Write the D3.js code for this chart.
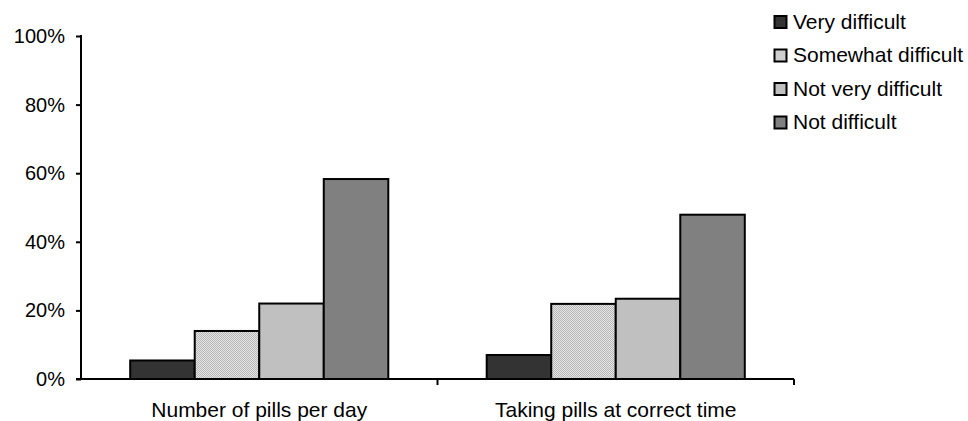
<!DOCTYPE html>
<html><head><meta charset="utf-8">
<script src="https://cdn.jsdelivr.net/npm/d3@7"></script>
<style>body{margin:0;background:#fff}svg{display:block}text{font-family:"Liberation Sans",Arial,sans-serif;fill:#000}</style>
</head><body><svg id="c" width="968" height="421"></svg>
<script>
const categories = ["Number of pills per day", "Taking pills at correct time"];
const seriesNames = ["Very difficult", "Somewhat difficult", "Not very difficult", "Not difficult"];
const veryDifficult = [5.4, 7.0];
const somewhatDifficult = [14.0, 21.9];
const notVeryDifficult = [22.0, 23.4];
const notDifficult = [58.3, 47.9];
const yTicks = [0, 20, 40, 60, 80, 100];
const seriesValues = [veryDifficult, somewhatDifficult, notVeryDifficult, notDifficult];
const fills = ["#333333", "url(#dots)", "#c0c0c0", "#808080"];

const svg = d3.select("#c");
const defs = svg.append("defs");
const pat = defs.append("pattern").attr("id","dots").attr("width",2).attr("height",2).attr("patternUnits","userSpaceOnUse");
pat.append("rect").attr("width",2).attr("height",2).attr("fill","#e4e4e4");
pat.append("rect").attr("width",1).attr("height",1).attr("fill","#b8b8b8");
pat.append("rect").attr("x",1).attr("y",1).attr("width",1).attr("height",1).attr("fill","#b8b8b8");

const mLeft = 81, mRight = 794, mTop = 36, mBottom = 379;
const y = d3.scaleLinear().domain([0,100]).range([mBottom, mTop]);
const x0 = d3.scaleBand().domain(categories).range([mLeft, mRight]).paddingInner(0).paddingOuter(0);
const inner = 0.724;
const x1 = d3.scaleBand().domain(seriesNames).range([0, x0.bandwidth()*inner]);
const off = x0.bandwidth()*(1-inner)/2;

const data = [];
categories.forEach((c,ci)=>seriesNames.forEach((s,si)=>data.push({c, s, si, v: seriesValues[si][ci]})));

svg.append("g").selectAll("rect").data(data).join("rect")
  .attr("x", d=>x0(d.c)+off+x1(d.s))
  .attr("y", d=>y(d.v))
  .attr("width", x1.bandwidth())
  .attr("height", d=>y(0)-y(d.v))
  .attr("fill", d=>fills[d.si])
  .attr("stroke","#000").attr("stroke-width",2);

// y axis
const ya = svg.append("g").attr("transform",`translate(${mLeft},0)`)
  .call(d3.axisLeft(y).tickValues(yTicks).tickFormat(d=>d+"%").tickSize(5).tickPadding(11));
ya.select(".domain").attr("stroke","#000").attr("stroke-width",2).attr("d",`M0,${mTop-1}V${mBottom+1}`);
ya.selectAll(".tick line").attr("stroke","#000").attr("stroke-width",2);
ya.selectAll("text").style("font-size","20px").attr("font-family","Liberation Sans, Arial, sans-serif");

// x axis
const xa = svg.append("g").attr("transform",`translate(0,${mBottom})`);
xa.append("line").attr("x1",mLeft-5).attr("x2",mRight).attr("y1",0).attr("y2",0).attr("stroke","#000").attr("stroke-width",2);
const bounds = categories.map(c=>x0(c)+x0.bandwidth());
xa.selectAll("line.t").data(bounds).join("line").attr("class","t")
  .attr("x1",d=>d).attr("x2",d=>d).attr("y1",0).attr("y2",6).attr("stroke","#000").attr("stroke-width",2);
xa.selectAll("text").data(categories).join("text")
  .attr("x",d=>x0(d)+x0.bandwidth()/2).attr("y",38).attr("text-anchor","middle")
  .style("font-size","21px").text(d=>d);

// legend
const lg = svg.append("g").attr("transform","translate(774.5,16)");
const items = lg.selectAll("g").data(seriesNames).join("g").attr("transform",(d,i)=>`translate(0,${i*33.5})`);
items.append("rect").attr("width",12).attr("height",12).attr("fill",(d,i)=>fills[i]).attr("stroke","#000").attr("stroke-width",2);
items.append("text").attr("x",18.5).attr("y",12.5).style("font-size","21px").text(d=>d);
</script></body></html>
